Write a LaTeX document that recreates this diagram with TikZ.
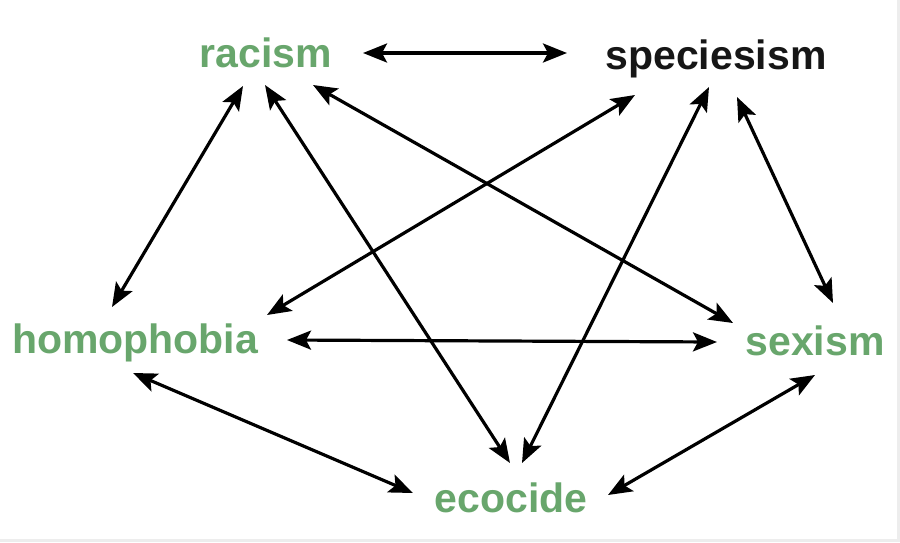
\documentclass[tikz,border=0pt]{standalone}
\usepackage{fontspec}
\setmainfont{Liberation Sans}
\usetikzlibrary{arrows.meta}
\definecolor{leaf}{RGB}{104,166,108}
\definecolor{ink}{RGB}{22,22,22}

\begin{document}
\begin{tikzpicture}[
    x=1pt,y=-1pt,
    word/.style={leaf,inner sep=0pt,text height=30pt,text depth=8pt,
      font=\fontsize{41}{41}\selectfont\bfseries},
    link/.style={line width=3.2pt,black,{Stealth[length=24pt,width=19pt,inset=5pt]}-{Stealth[length=24pt,width=19pt,inset=5pt]}}
    ]
    \fill[black!7] (0,0) rectangle (900,542);
    \fill[white] (0,0) rectangle (897,539);
    \node[word] (racism) at (266,56) {racism};
    \node[word,ink] (speciesism) at (716,58) {speciesism};
    \node[word] (homophobia) at (135,342) {homophobia};
    \node[word] (sexism) at (815,344) {sexism};
    \node[word] (ecocide) at (511,501) {ecocide};
    \draw[link] ([shift={(97,-3)}]racism.center) -- ([shift={(-149,-5)}]speciesism.center);
    \draw[link] ([shift={(-23,30)}]racism.center) -- ([shift={(-23,-35)}]homophobia.center);
    \draw[link] ([shift={(-1,29)}]racism.center) -- ([shift={(-1,-38)}]ecocide.center);
    \draw[link] ([shift={(47,29)}]racism.center) -- ([shift={(-82,-21)}]sexism.center);
    \draw[link] ([shift={(-81,37)}]speciesism.center) -- ([shift={(132,-27)}]homophobia.center);
    \draw[link] ([shift={(-7,29)}]speciesism.center) -- ([shift={(11,-38)}]ecocide.center);
    \draw[link] ([shift={(21,39)}]speciesism.center) -- ([shift={(18,-41)}]sexism.center);
    \draw[link] ([shift={(152,-2)}]homophobia.center) -- ([shift={(-98,-2)}]sexism.center);
    \draw[link] ([shift={(-2,31)}]homophobia.center) -- ([shift={(-98,-8)}]ecocide.center);
    \draw[link] ([shift={(0,31)}]sexism.center) -- ([shift={(97,-6)}]ecocide.center);
  \end{tikzpicture}
\end{document}
